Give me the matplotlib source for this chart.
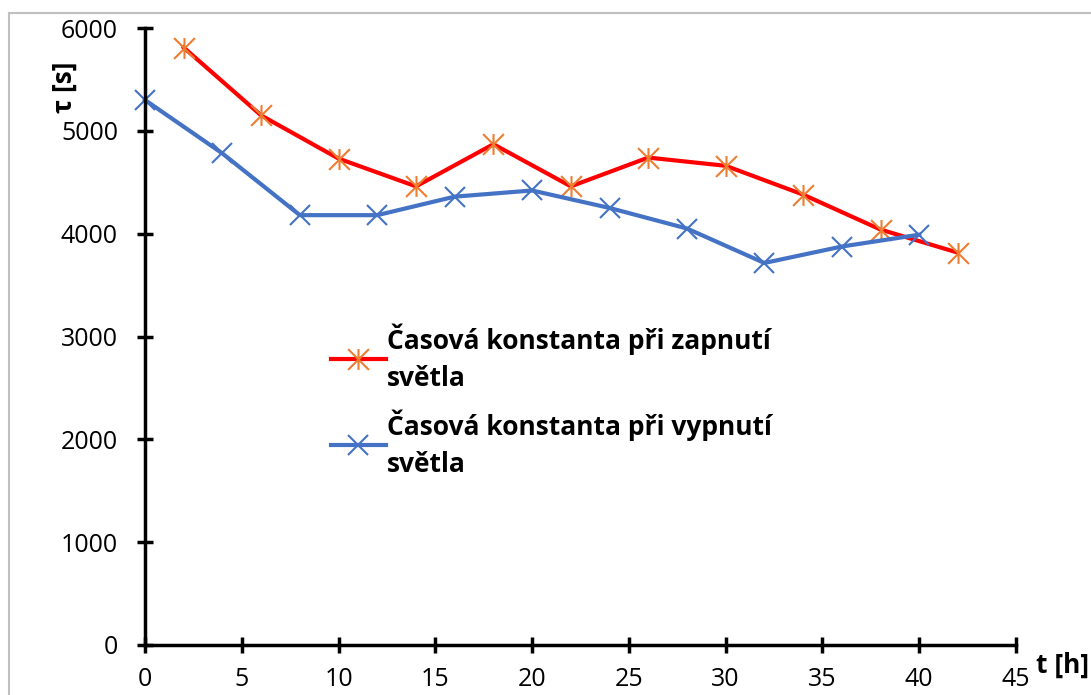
import matplotlib.pyplot as plt
from matplotlib.path import Path
from matplotlib.lines import Line2D

plt.rcParams['font.family'] = ['Open Sans', 'DejaVu Sans']

# data
t_on = [2, 6, 10, 14, 18, 22, 26, 30, 34, 38, 42]
tau_on = [5810, 5150, 4730, 4460, 4870, 4460, 4740, 4660, 4380, 4040, 3815]
t_off = [0, 4, 8, 12, 16, 20, 24, 28, 32, 36, 40]
tau_off = [5300, 4780, 4180, 4180, 4360, 4420, 4250, 4050, 3715, 3875, 3990]
labels = ['Časová konstanta při zapnutí\nsvětla',
          'Časová konstanta při vypnutí\nsvětla']
x_ticks = list(range(0, 46, 5))
y_ticks = list(range(0, 6001, 1000))

# Excel style asterisk: vertical bar plus an X
asterisk = Path([(0, -1), (0, 1), (-1, -1), (1, 1), (-1, 1), (1, -1)],
                [Path.MOVETO, Path.LINETO] * 3)

fig = plt.figure(figsize=(10.91, 6.95), dpi=100)
ax = fig.add_axes([145 / 1091, 50 / 695, 871 / 1091, 617 / 695])

# light grey chart-area border (left and top only visible)
fig.add_artist(Line2D([9 / 1091, 9 / 1091], [0, 1 - 13 / 695],
                      color='#bfbfbf', lw=1.5, transform=fig.transFigure))
fig.add_artist(Line2D([9 / 1091, 1], [1 - 13 / 695, 1 - 13 / 695],
                      color='#bfbfbf', lw=1.5, transform=fig.transFigure))

ax.plot(t_on, tau_on, color='#ff0000', lw=3, marker=asterisk, ms=15,
        mec='#ed7d31', mew=1.5, clip_on=False, label=labels[0])
ax.plot(t_off, tau_off, color='#4472c4', lw=3, marker='x', ms=15,
        mec='#4472c4', mew=1.5, clip_on=False, label=labels[1])

ax.set_xlim(0, 45)
ax.set_ylim(0, 6000)
ax.set_xticks(x_ticks)
ax.set_yticks(y_ticks)

for side in ['top', 'right']:
    ax.spines[side].set_visible(False)
for side in ['left', 'bottom']:
    ax.spines[side].set_linewidth(2.5)
ax.tick_params(direction='inout', length=11, width=2.5, labelsize=18)
ax.tick_params(axis='x', pad=10)
ax.tick_params(axis='y', pad=14)

fig.text(64 / 1091, 1 - 87 / 695, 'τ [s]', rotation=90, fontsize=19,
         fontweight='bold', ha='center', va='center')
fig.text(1063 / 1091, 1 - 665 / 695, 't [h]', fontsize=19,
         fontweight='bold', ha='center', va='center')

leg = ax.legend(loc='upper left', bbox_to_anchor=(320 / 1091, 1 - 313 / 695),
                bbox_transform=fig.transFigure, frameon=False,
                prop={'size': 19, 'weight': 'bold'}, handlelength=2.1,
                handletextpad=0.05, labelspacing=0.7, borderaxespad=0)
for txt in leg.get_texts():
    txt.set_linespacing(1.45)

fig.savefig('out.png', dpi=100)
